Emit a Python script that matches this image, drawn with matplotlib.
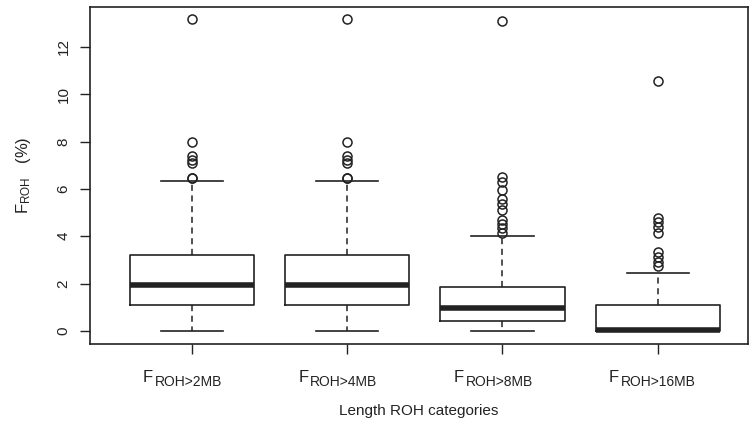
import matplotlib
matplotlib.use('Agg')
from matplotlib import pyplot as plt

plt.rcParams['font.family'] = ['Liberation Sans', 'DejaVu Sans']
plt.rcParams['mathtext.fontset'] = 'custom'
plt.rcParams['mathtext.rm'] = 'Liberation Sans'

# data (F_ROH in %)
categories = ['ROH>2MB', 'ROH>4MB', 'ROH>8MB', 'ROH>16MB']
medians = [1.95, 1.95, 0.97, 0.03]
q1 = [1.10, 1.10, 0.40, 0.0]
q3 = [3.22, 3.22, 1.87, 1.10]
whis_lo = [0.0, 0.0, 0.0, 0.0]
whis_hi = [6.35, 6.35, 4.0, 2.45]
outliers = [
    [13.2, 7.98, 7.4, 7.22, 7.08, 6.48, 6.45],
    [13.2, 7.98, 7.4, 7.22, 7.08, 6.48, 6.45],
    [13.1, 6.5, 6.27, 5.96, 5.56, 5.37, 5.11, 4.7, 4.52, 4.35, 4.13],
    [10.55, 4.76, 4.58, 4.39, 4.15, 3.35, 3.12, 2.93, 2.75],
]
y_ticks = [0, 2, 4, 6, 8, 10, 12]

ink = '#222222'

stats = []
for i, name in enumerate(categories):
    stats.append({'med': medians[i], 'q1': q1[i], 'q3': q3[i],
                  'whislo': whis_lo[i], 'whishi': whis_hi[i],
                  'fliers': outliers[i], 'label': name})

fig = plt.figure(figsize=(7.5, 4.32), dpi=100)
ax = fig.add_axes([0.12, 0.204, 0.877, 0.78])

positions = list(range(1, len(categories) + 1))
ax.bxp(stats, positions=positions, widths=0.8, showfliers=True,
       boxprops={'color': ink, 'linewidth': 1.2},
       medianprops={'color': ink, 'linewidth': 4, 'solid_capstyle': 'butt'},
       whiskerprops={'color': ink, 'linewidth': 1.1, 'linestyle': (0, (4, 3))},
       capprops={'color': ink, 'linewidth': 1.2},
       capwidths=0.4,
       flierprops={'marker': 'o', 'markerfacecolor': 'none',
                   'markeredgecolor': ink, 'markersize': 6.5,
                   'markeredgewidth': 1.1})

ax.set_xlim(0.343, 4.58)
ax.set_ylim(-0.55, 13.69)

ax.set_yticks(y_ticks)
ax.set_yticklabels([str(t) for t in y_ticks], rotation=90, va='center', fontsize=11)
ax.set_xticks(positions)
ax.set_xticklabels([])

# x labels: big "F" plus a larger-than-mathtext subscript, like the R plot
for p, c in zip(positions, categories):
    ax.annotate('F', xy=(p, 0), xycoords=ax.get_xaxis_transform(),
                xytext=(-49, -38.5), textcoords='offset pixels',
                ha='left', va='baseline', fontsize=12, color=ink)
    ax.annotate(c, xy=(p, 0), xycoords=ax.get_xaxis_transform(),
                xytext=(-37, -42.5), textcoords='offset pixels',
                ha='left', va='baseline', fontsize=10, color=ink)

ax.tick_params(axis='both', direction='out', length=7, width=1, color=ink, labelcolor=ink)
ax.tick_params(axis='y', pad=7)

for s in ax.spines.values():
    s.set_color(ink)
    s.set_linewidth(1.2)

ax.set_xlabel('Length ROH categories', fontsize=11, color=ink, labelpad=33)
ax.set_ylabel(r'$\mathregular{F_{ROH}}$   (%)', fontsize=12, color=ink, labelpad=17)

fig.savefig('out.png', dpi=100)
